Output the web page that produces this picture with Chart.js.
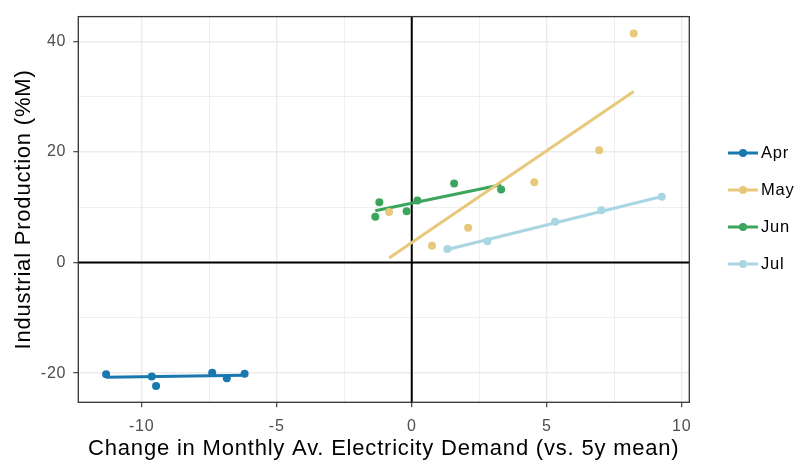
<!DOCTYPE html>
<html><head><meta charset="utf-8">
<script src="https://cdn.jsdelivr.net/npm/chart.js@4.4.1/dist/chart.umd.min.js"></script>
<style>html,body{margin:0;padding:0;background:#fff;}#wrap{width:798px;height:464px;position:relative;}</style>
</head><body><div id="wrap"><canvas id="c" width="798" height="464"></canvas></div>
<script>
// ---- data ----
const months = ['Apr', 'May', 'Jun', 'Jul'];
const colors = ['#1a78b0', '#e8c87a', '#3ba55e', '#a8d6e2'];

const aprX = [-11.32, -9.63, -9.47, -7.39, -6.85, -6.19];
const aprY = [-20.2, -20.6, -22.3, -19.9, -20.9, -20.1];
const mayX = [-0.84, 0.75, 2.09, 4.54, 6.94, 8.22];
const mayY = [9.15, 3.04, 6.3, 14.5, 20.3, 41.4];
const junX = [-1.35, -1.20, -0.19, 0.21, 1.57, 3.31];
const junY = [8.26, 10.9, 9.28, 11.2, 14.3, 13.2];
const julX = [1.32, 2.80, 5.31, 7.02, 9.26];
const julY = [2.44, 3.87, 7.37, 9.45, 11.9];

// fitted-line end points
const aprFitX = [-11.32, -6.19], aprFitY = [-20.75, -20.35];
const mayFitX = [-0.84, 8.22],   mayFitY = [0.8, 30.9];
const junFitX = [-1.35, 3.31],   junFitY = [9.35, 14.05];
const julFitX = [1.32, 9.26],    julFitY = [2.35, 11.95];

const xGridValues = [-10, -7.5, -5, -2.5, 0, 2.5, 5, 7.5, 10];
const xTickLabels = ['-10', '', '-5', '', '0', '', '5', '', '10'];
const yGridValues = [-20, -10, 0, 10, 20, 30, 40];
const yTickLabels = ['-20', '', '0', '', '20', '', '40'];

const xTitle = 'Change in Monthly Av. Electricity Demand (vs. 5y mean)';
const yTitle = 'Industrial Production (%M)';

// ---- build ----
const FONT = "'Liberation Sans', Arial, sans-serif";
const pts = (xs, ys) => xs.map((x, i) => ({x: x, y: ys[i]}));
const series = [
  [aprX, aprY, aprFitX, aprFitY],
  [mayX, mayY, mayFitX, mayFitY],
  [junX, junY, junFitX, junFitY],
  [julX, julY, julFitX, julFitY]
];
const datasets = [];
series.forEach((s, i) => {
  datasets.push({
    label: months[i] + ' fit', data: pts(s[2], s[3]), showLine: true,
    borderColor: colors[i], borderWidth: 3, pointRadius: 0, fill: false, order: 2
  });
  datasets.push({
    label: months[i], data: pts(s[0], s[1]), showLine: false,
    backgroundColor: colors[i], borderWidth: 0, pointRadius: 4, pointHoverRadius: 4, order: 1
  });
});

function gridOpts(labels) {
  const major = c => c.index !== undefined && labels[c.index] !== '';
  return {
    color: '#EBEBEB',
    lineWidth: c => major(c) ? 1.4 : 0.8,
    tickColor: c => major(c) ? '#333333' : 'rgba(0,0,0,0)',
    tickWidth: 1.1,
    tickLength: 5,
    drawTicks: true
  };
}

const extras = {
  id: 'extras',
  beforeDraw(chart) { try { chart.ctx.letterSpacing = '0.8px'; } catch (e) {} },
  beforeDatasetsDraw(chart) {
    const {ctx, chartArea: a, scales: {x, y}} = chart;
    const x0 = x.getPixelForValue(0), y0 = y.getPixelForValue(0);
    ctx.save();
    ctx.strokeStyle = '#000'; ctx.lineWidth = 2;
    ctx.beginPath();
    ctx.moveTo(x0, a.top); ctx.lineTo(x0, a.bottom);
    ctx.moveTo(a.left, y0); ctx.lineTo(a.right, y0);
    ctx.stroke();
    ctx.restore();
  },
  afterDraw(chart) {
    const {ctx, chartArea: a} = chart;
    ctx.save();
    ctx.strokeStyle = '#333333'; ctx.lineWidth = 1.3;
    ctx.strokeRect(a.left, a.top, a.right - a.left, a.bottom - a.top);
    // legend
    const lx0 = 728, lx1 = 758, ly0 = 153, step = 37;
    months.forEach((m, i) => {
      const cy = ly0 + i * step;
      ctx.strokeStyle = colors[i]; ctx.lineWidth = 3;
      ctx.beginPath(); ctx.moveTo(lx0, cy); ctx.lineTo(lx1, cy); ctx.stroke();
      ctx.fillStyle = colors[i];
      ctx.beginPath(); ctx.arc((lx0 + lx1) / 2, cy, 4, 0, Math.PI * 2); ctx.fill();
      ctx.fillStyle = '#000';
      ctx.font = '16.5px ' + FONT;
      ctx.textAlign = 'left'; ctx.textBaseline = 'middle';
      ctx.fillText(m, 761, cy + 0.5);
    });
    ctx.restore();
  }
};

new Chart(document.getElementById('c'), {
  type: 'scatter',
  data: {datasets: datasets},
  options: {
    responsive: false, animation: false, devicePixelRatio: 1,
    layout: {padding: {top: 10.7, right: 108.7, left: 0, bottom: 0}},
    plugins: {legend: {display: false}, tooltip: {enabled: false}},
    scales: {
      x: {
        type: 'linear', min: -12.35, max: 10.28,
        afterBuildTicks: s => { s.ticks = xGridValues.map(v => ({value: v})); },
        afterFit: s => { s.height = 61.7; },
        grid: gridOpts(xTickLabels),
        border: {display: false},
        ticks: {
          autoSkip: false, maxRotation: 0, padding: 9.5,
          color: '#4D4D4D', font: {family: FONT, size: 16},
          callback: (v, i) => xTickLabels[i]
        },
        title: {display: true, text: xTitle, color: '#000', font: {family: FONT, size: 22}, padding: {top: 0, bottom: 1.5}}
      },
      y: {
        type: 'linear', min: -25.26, max: 44.45,
        afterBuildTicks: s => { s.ticks = yGridValues.map(v => ({value: v})); },
        afterFit: s => { s.width = 78.3; },
        grid: gridOpts(yTickLabels),
        border: {display: false},
        ticks: {
          autoSkip: false, padding: 7,
          color: '#4D4D4D', font: {family: FONT, size: 16},
          callback: (v, i) => yTickLabels[i]
        },
        title: {display: true, text: yTitle, color: '#000', font: {family: FONT, size: 22}, padding: {top: 11, bottom: 0}}
      }
    }
  },
  plugins: [extras]
});
</script></body></html>
